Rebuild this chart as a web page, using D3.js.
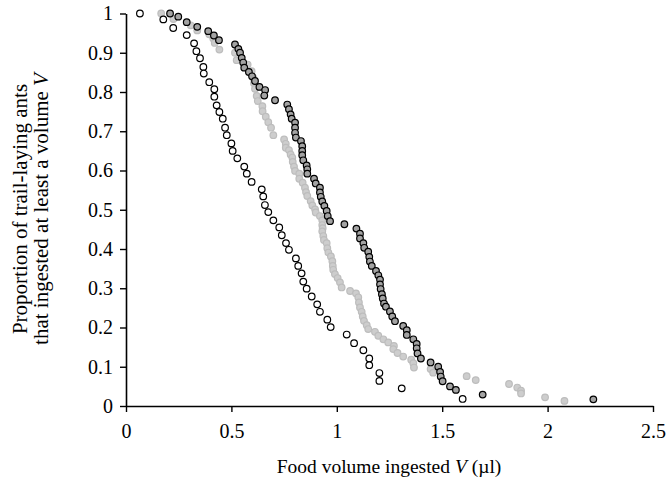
<!DOCTYPE html>
<html>
<head>
<meta charset="utf-8">
<script src="https://cdn.jsdelivr.net/npm/d3@7"></script>
<style>
    body { margin: 0; background: white; }
    text { font-family: "Liberation Serif", "DejaVu Serif", serif; fill: black; }
</style>
</head>
<body>
<div id="container"></div>
<script>
// three groups, cumulative proportions
const openSeries = [[0.066,1.0],[0.177,0.985],[0.224,0.963],[0.288,0.945],[0.323,0.924],[0.334,0.904],[0.351,0.886],[0.367,0.864],[0.369,0.847],[0.395,0.825],[0.419,0.807],[0.419,0.788],[0.430,0.766],[0.443,0.749],[0.459,0.732],[0.470,0.709],[0.478,0.690],[0.500,0.669],[0.506,0.650],[0.528,0.631],[0.561,0.610],[0.573,0.592],[0.596,0.571],[0.644,0.552],[0.651,0.534],[0.659,0.512],[0.675,0.494],[0.699,0.473],[0.727,0.455],[0.739,0.435],[0.759,0.415],[0.773,0.398],[0.806,0.376],[0.817,0.357],[0.833,0.338],[0.841,0.317],[0.857,0.299],[0.881,0.279],[0.907,0.259],[0.920,0.240],[0.955,0.220],[0.971,0.201],[1.047,0.182],[1.082,0.160],[1.126,0.142],[1.154,0.121],[1.154,0.104],[1.202,0.084],[1.202,0.064],[1.308,0.045],[1.597,0.018]]

const greySeries = [[0.167,1.0],[0.225,0.986],[0.307,0.970],[0.338,0.957],[0.395,0.947],[0.414,0.936],[0.421,0.925],[0.443,0.908],[0.517,0.900],[0.525,0.881],[0.577,0.870],[0.596,0.853],[0.604,0.836],[0.607,0.822],[0.612,0.808],[0.620,0.790],[0.625,0.777],[0.647,0.764],[0.648,0.751],[0.663,0.737],[0.675,0.723],[0.688,0.709],[0.699,0.690],[0.750,0.679],[0.758,0.668],[0.758,0.658],[0.773,0.652],[0.781,0.641],[0.789,0.633],[0.791,0.622],[0.797,0.610],[0.802,0.599],[0.822,0.592],[0.822,0.579],[0.838,0.569],[0.849,0.556],[0.854,0.545],[0.860,0.535],[0.876,0.522],[0.884,0.511],[0.897,0.501],[0.900,0.493],[0.920,0.484],[0.931,0.473],[0.931,0.461],[0.933,0.453],[0.931,0.445],[0.936,0.433],[0.939,0.423],[0.952,0.415],[0.955,0.402],[0.960,0.391],[0.972,0.381],[0.979,0.369],[0.981,0.357],[0.983,0.347],[0.991,0.336],[1.004,0.326],[1.015,0.315],[1.023,0.302],[1.063,0.293],[1.091,0.287],[1.102,0.277],[1.105,0.264],[1.110,0.251],[1.118,0.240],[1.123,0.228],[1.129,0.217],[1.142,0.206],[1.149,0.196],[1.181,0.189],[1.197,0.179],[1.221,0.170],[1.244,0.162],[1.271,0.153],[1.268,0.145],[1.288,0.135],[1.315,0.126],[1.353,0.118],[1.363,0.109],[1.366,0.098],[1.445,0.094],[1.457,0.085],[1.616,0.076],[1.659,0.066],[1.817,0.056],[1.856,0.047],[1.874,0.039],[1.874,0.032],[1.988,0.022],[2.080,0.013]]

const darkSeries = [[0.209,1.0],[0.248,0.992],[0.288,0.978],[0.338,0.966],[0.390,0.955],[0.417,0.944],[0.441,0.932],[0.517,0.921],[0.533,0.910],[0.541,0.900],[0.549,0.887],[0.556,0.875],[0.561,0.862],[0.583,0.851],[0.598,0.840],[0.612,0.828],[0.633,0.813],[0.660,0.805],[0.656,0.791],[0.707,0.779],[0.765,0.768],[0.773,0.756],[0.781,0.743],[0.786,0.732],[0.802,0.722],[0.802,0.709],[0.802,0.696],[0.806,0.684],[0.830,0.675],[0.836,0.662],[0.836,0.650],[0.836,0.639],[0.841,0.626],[0.857,0.613],[0.860,0.603],[0.860,0.592],[0.892,0.579],[0.900,0.567],[0.920,0.556],[0.920,0.544],[0.924,0.533],[0.931,0.521],[0.941,0.510],[0.952,0.497],[0.957,0.484],[0.968,0.471],[1.036,0.463],[1.093,0.452],[1.110,0.439],[1.110,0.427],[1.126,0.415],[1.130,0.403],[1.149,0.393],[1.154,0.380],[1.157,0.368],[1.166,0.357],[1.186,0.344],[1.197,0.333],[1.205,0.322],[1.205,0.310],[1.208,0.298],[1.214,0.285],[1.218,0.274],[1.224,0.261],[1.233,0.253],[1.252,0.241],[1.263,0.228],[1.276,0.216],[1.315,0.204],[1.332,0.193],[1.332,0.181],[1.363,0.170],[1.379,0.158],[1.379,0.147],[1.383,0.134],[1.399,0.121],[1.445,0.111],[1.481,0.100],[1.490,0.087],[1.493,0.075],[1.502,0.063],[1.537,0.050],[1.565,0.041],[1.692,0.029],[2.217,0.017]]

const xTicks = [0, 0.5, 1, 1.5, 2, 2.5]
const yTicks = [0, 0.1, 0.2, 0.3, 0.4, 0.5, 0.6, 0.7, 0.8, 0.9, 1]

const w = 670
const h = 481

const svg = d3.select("#container")
    .append("svg")
    .attr("width", w)
    .attr("height", h)
    .style("background-color", "white")

const xScale = d3.scaleLinear()
    .domain([0, 2.5])
    .range([126, 653])
const yScale = d3.scaleLinear()
    .domain([0, 1])
    .range([406, 13.5])

const xAxis = d3.axisBottom(xScale)
    .tickValues(xTicks)
    .tickFormat(d3.format("~g"))
    .tickSizeInner(6)
    .tickSizeOuter(0)
    .tickPadding(12)
const yAxis = d3.axisLeft(yScale)
    .tickValues(yTicks)
    .tickFormat(d3.format("~g"))
    .tickSizeInner(6)
    .tickSizeOuter(0)
    .tickPadding(7)

const gx = svg.append("g")
    .attr("transform", `translate(0, ${yScale(0)})`)
    .call(xAxis)
const gy = svg.append("g")
    .attr("transform", `translate(${xScale(0)}, 0)`)
    .call(yAxis)

for (const g of [gx, gy]) {
    g.select(".domain").attr("stroke", "black").attr("stroke-width", 1.6)
    g.selectAll(".tick line").attr("stroke", "black").attr("stroke-width", 1.4)
    g.selectAll(".tick text")
        .style("font-family", "'Liberation Serif', serif")
        .style("font-size", "20px")
}

// points
function drawDots(data, fill, stroke) {
    svg.append("g")
        .selectAll("circle")
        .data(data)
        .enter()
        .append("circle")
        .attr("cx", (d) => xScale(d[0]))
        .attr("cy", (d) => yScale(d[1]))
        .attr("r", 3.3)
        .attr("fill", fill)
        .attr("stroke", stroke)
        .attr("stroke-width", 1.2)
}
drawDots(greySeries, "#cdcdcd", "#bdbdbd")
drawDots(openSeries, "white", "black")
drawDots(darkSeries, "#a3a3a3", "black")

// axis titles
const xTitle = svg.append("text")
    .attr("x", 389)
    .attr("y", 473)
    .attr("text-anchor", "middle")
    .style("font-size", "19.5px")
xTitle.append("tspan").text("Food volume ingested ")
xTitle.append("tspan").style("font-style", "italic").text("V")
xTitle.append("tspan").text(" (\u00b5l)")

const yTitle = svg.append("g")
    .attr("transform", "translate(0, 209) rotate(-90)")
yTitle.append("text")
    .attr("x", 0)
    .attr("y", 27)
    .attr("text-anchor", "middle")
    .style("font-size", "21px")
    .text("Proportion of trail-laying ants")
const yLine2 = yTitle.append("text")
    .attr("x", 0)
    .attr("y", 48)
    .attr("text-anchor", "middle")
    .style("font-size", "21px")
yLine2.append("tspan").text("that ingested at least a volume ")
yLine2.append("tspan").style("font-style", "italic").text("V")
</script>
</body>
</html>
